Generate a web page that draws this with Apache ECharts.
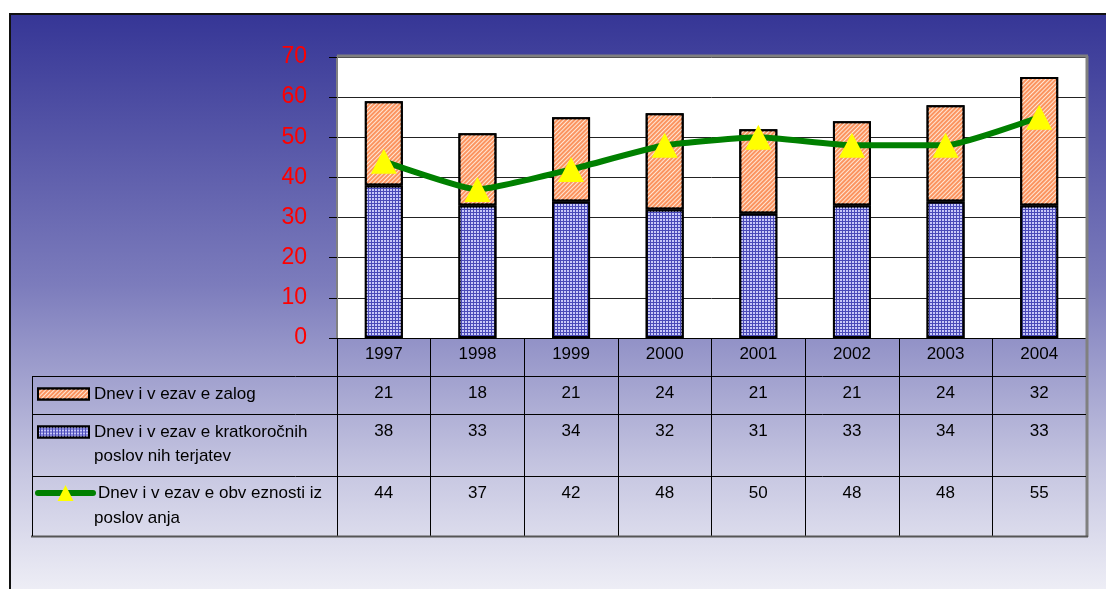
<!DOCTYPE html>
<html>
<head>
<meta charset="utf-8">
<script src="https://cdn.jsdelivr.net/npm/echarts@6/dist/echarts.min.js"></script>
<style>
html,body{margin:0;padding:0;background:#fff;width:1106px;height:589px;overflow:hidden;}
#frame{position:absolute;left:9px;top:13px;width:1120px;height:600px;border-left:2px solid #111;border-top:2px solid #111;
background:linear-gradient(to bottom,#363696 0%,#7c7cbc 45%,#c4c4e0 75%,#f6f6fa 100%);}
#chart{position:absolute;left:0;top:0;width:1106px;height:589px;}
</style>
</head>
<body>
<div id="frame"></div>
<div id="chart"></div>
<script>
const years = ['1997','1998','1999','2000','2001','2002','2003','2004'];
const zalog = [21, 18, 21, 24, 21, 21, 24, 32];
const terjatev = [38, 33, 34, 32, 31, 33, 34, 33];
const obveznosti = [44, 37, 42, 48, 50, 48, 48, 55];
const legendLines = [
  ['Dnev i v ezav e zalog'],
  ['Dnev i v ezav e kratkoročnih', 'poslov nih terjatev'],
  ['Dnev i v ezav e obv eznosti iz', 'poslov anja']
];
const yTicks = {min: 0, max: 70, interval: 10};

const names = legendLines.map(l => l.join(' '));
const FONT = '"Liberation Sans", Arial, sans-serif';

const chart = echarts.init(document.getElementById('chart'), null, {renderer: 'canvas'});

const gridLeft = 337, gridTop = 57, gridRight = 1086, gridBottom = 338;
const rowLines = [376, 414, 476];
const tableBottom = 536;
const rowCenters = [393, 431, 493];
const secondLineY = [null, 456, 518];
const legendIconCenters = [394, 432, 493];

const orangeStyle = {
  color: '#fb9460',
  borderColor: '#000', borderWidth: 2,
  decal: {symbol: 'rect', symbolSize: 1, dashArrayX: [1, 0], dashArrayY: [1, 2], rotation: -Math.PI / 4, color: '#ffe6d4'}
};
const blueStyle = {
  color: '#4a4ab8',
  borderColor: '#000', borderWidth: 2,
  decal: {symbol: 'rect', symbolSize: 1, dashArrayX: [2, 1], dashArrayY: [2, 1], color: '#c8c8f8'}
};

function legendFor(i, iconW, iconH, extra) {
  return Object.assign({
    show: true,
    data: [names[i]],
    left: 37,
    top: legendIconCenters[i] - 10,
    padding: 0,
    itemWidth: iconW,
    itemHeight: iconH,
    itemGap: 5,
    selectedMode: false,
    formatter: () => legendLines[i][0],
    textStyle: {fontFamily: FONT, fontSize: 17, color: '#000', lineHeight: 20}
  }, extra || {});
}

const option = {
  animation: false,
  backgroundColor: 'transparent',
  textStyle: {fontFamily: FONT},
  grid: {left: gridLeft, top: gridTop, right: 1106 - gridRight, bottom: 589 - gridBottom,
         show: true, backgroundColor: '#fff', borderWidth: 0, containLabel: false},
  legend: [
    legendFor(0, 51, 11, {icon: 'rect'}),
    legendFor(1, 51, 11, {icon: 'rect'}),
    legendFor(2, 55, 20, {left: 35, lineStyle: {width: 6, cap: 'round'}})
  ],
  xAxis: {
    type: 'category', data: years, boundaryGap: true,
    axisLine: {show: true, lineStyle: {color: '#000', width: 1}},
    axisTick: {show: true, interval: 0, length: tableBottom - gridBottom, alignWithLabel: false, lineStyle: {color: '#000', width: 1}},
    axisLabel: {fontFamily: FONT, fontSize: 17, color: '#000', margin: 8, interval: 0},
    splitLine: {show: false}
  },
  yAxis: {
    type: 'value', min: yTicks.min, max: yTicks.max, interval: yTicks.interval,
    axisLine: {show: true, lineStyle: {color: '#808080', width: 2}},
    axisTick: {show: true, length: 8, lineStyle: {color: '#000', width: 1}},
    axisLabel: {fontFamily: FONT, fontSize: 23, color: '#ff0000', margin: 30},
    splitLine: {show: true, lineStyle: {color: '#222', width: 1}}
  },
  series: [
    {name: names[1], type: 'bar', stack: 'a', data: terjatev, barWidth: 38, itemStyle: blueStyle, z: 2},
    {name: names[0], type: 'bar', stack: 'a', data: zalog, barWidth: 38, itemStyle: orangeStyle, z: 2},
    {name: names[2], type: 'line', data: obveznosti, z: 5, smooth: 0.15,
     lineStyle: {color: '#008000', width: 6}, itemStyle: {color: '#ffff00', borderWidth: 0},
     symbol: 'triangle', symbolSize: [26, 25], showSymbol: true,
     emphasis: {disabled: true}}
  ]
};
chart.setOption(option);

function buildGraphics() {
  const els = [];
  els.push({type: 'line', z: 100, shape: {x1: gridLeft, y1: gridTop - 1, x2: gridRight + 2, y2: gridTop - 1}, style: {stroke: '#808080', lineWidth: 3}});
  els.push({type: 'line', z: 100, shape: {x1: gridRight + 1, y1: gridTop - 1, x2: gridRight + 1, y2: tableBottom + 1}, style: {stroke: '#808080', lineWidth: 3}});
  rowLines.forEach(y => els.push({type: 'line', z: 100, shape: {x1: 32, y1: y + 0.5, x2: gridRight, y2: y + 0.5}, style: {stroke: '#000', lineWidth: 1}}));
  els.push({type: 'line', z: 100, shape: {x1: 31, y1: tableBottom + 0.5, x2: gridRight + 2, y2: tableBottom + 0.5}, style: {stroke: '#555', lineWidth: 2}});
  els.push({type: 'line', z: 100, shape: {x1: 32.5, y1: rowLines[0], x2: 32.5, y2: tableBottom}, style: {stroke: '#000', lineWidth: 1}});
  const rows = [zalog, terjatev, obveznosti];
  rows.forEach((arr, r) => {
    arr.forEach((v, i) => {
      const x = chart.convertToPixel({xAxisIndex: 0}, years[i]);
      els.push({type: 'text', z: 100, x: x, y: rowCenters[r],
        style: {text: String(v), fontFamily: FONT, fontSize: 17, fill: '#000', align: 'center', verticalAlign: 'middle'}});
    });
  });
  legendLines.forEach((l, i) => {
    if (l.length > 1) {
      els.push({type: 'text', z: 100, x: 94, y: secondLineY[i],
        style: {text: l[1], fontFamily: FONT, fontSize: 17, fill: '#000', align: 'left', verticalAlign: 'middle'}});
    }
  });
  return els;
}
chart.setOption({graphic: {elements: buildGraphics()}});
</script>
</body>
</html>
